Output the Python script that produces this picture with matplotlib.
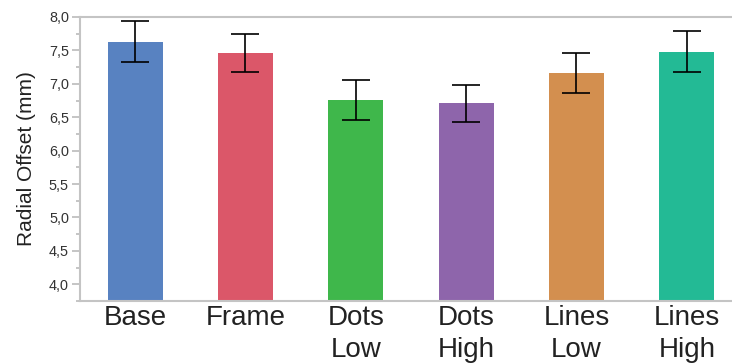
import matplotlib
matplotlib.use('Agg')
import matplotlib.pyplot as plt
from matplotlib.ticker import MultipleLocator, FuncFormatter

plt.rcParams['font.family'] = ['Liberation Sans', 'DejaVu Sans']

# data
conditions = ['Base', 'Frame', 'Dots\nLow', 'Dots\nHigh', 'Lines\nLow', 'Lines\nHigh']
offsets = [7.63, 7.46, 6.76, 6.71, 7.16, 7.48]
errors = [0.31, 0.29, 0.295, 0.275, 0.30, 0.31]
colors = ['#5882C1', '#DB5769', '#3FB74B', '#8E65AB', '#D38F4F', '#23BA95']

fig = plt.figure(figsize=(7.32, 3.63), dpi=100)
ax = fig.add_axes([80 / 732, 62 / 363, 652 / 732, 284 / 363])

x = range(len(conditions))
ax.bar(x, offsets, width=0.5, color=colors, zorder=2)
ax.errorbar(x, offsets, yerr=errors, fmt='none', ecolor='black',
            elinewidth=1.2, capsize=10.4, capthick=1.2, zorder=3)

ax.set_xlim(-0.5, 5.41)
ax.set_ylim(3.75, 8.0)
ax.yaxis.set_major_locator(MultipleLocator(0.5))
ax.yaxis.set_minor_locator(MultipleLocator(0.25))
ax.yaxis.set_major_formatter(FuncFormatter(lambda v, p: f'{v:.1f}'.replace('.', ',')))

ax.set_xticks(list(x))
ax.set_xticklabels(conditions, fontsize=20, color='#222222', linespacing=1.3)
ax.tick_params(axis='x', length=0, pad=3)
ax.tick_params(axis='y', which='major', length=6, width=1.2, color='#BBBBBB',
               labelsize=10.4, labelcolor='#333333', pad=2)
ax.tick_params(axis='y', which='minor', length=3, width=1.2, color='#BBBBBB')

for side in ['left', 'bottom', 'top']:
    ax.spines[side].set_color('#C4C4C4')
    ax.spines[side].set_linewidth(1.5)
ax.spines['right'].set_visible(False)

ax.set_ylabel('Radial Offset (mm)', fontsize=15, color='#222222', labelpad=9)

plt.savefig('out.png', dpi=100)
